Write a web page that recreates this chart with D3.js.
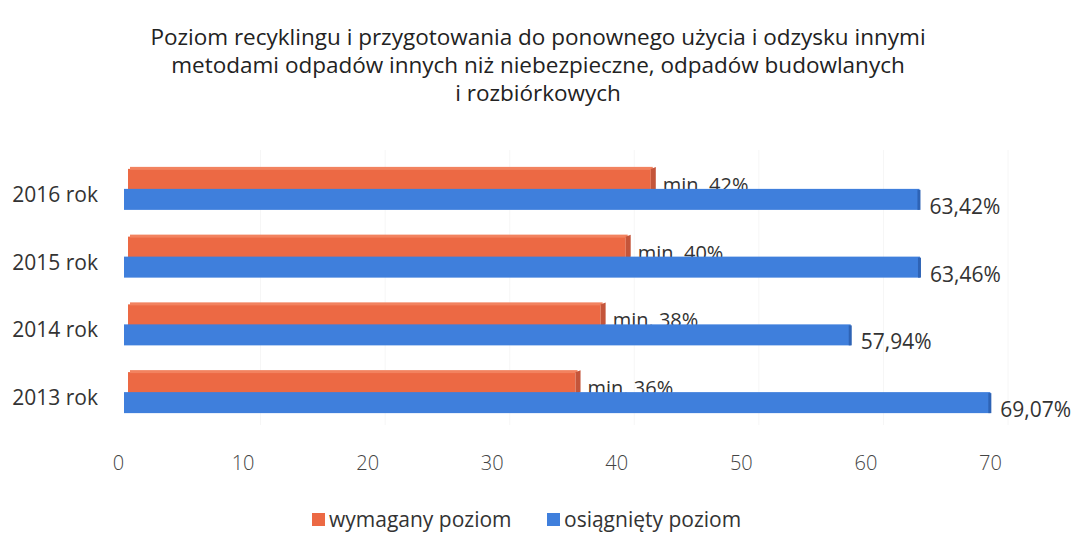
<!DOCTYPE html>
<html>
<head>
<meta charset="utf-8">
<script src="https://cdn.jsdelivr.net/npm/d3@7"></script>
<style>
  body { margin: 0; background: #fff; }
  svg { font-family: "Open Sans", Lato, sans-serif; }
</style>
</head>
<body>
<svg id="chart" width="1074" height="533"></svg>
<script>
// data
const years = ["2016 rok", "2015 rok", "2014 rok", "2013 rok"];
const required = [42, 40, 38, 36];
const achieved = [63.42, 63.46, 57.94, 69.07];
const ticks = [0, 10, 20, 30, 40, 50, 60, 70];
const seriesNames = ["wymagany poziom", "osiągnięty poziom"];
const titleLines = [
  "Poziom recyklingu i przygotowania do ponownego użycia i odzysku innymi",
  "metodami odpadów innych niż niebezpieczne, odpadów budowlanych",
  "i rozbiórkowych"
];

const orange = "#ec6944", orangeSide = "#c4553a", orangeTop = "#f2825f";
const blue = "#3f7fdc", blueCap = "#2e63b5";

const plFmt = d3.formatLocale({ decimal: ",", thousands: " ", grouping: [3], currency: ["", " zł"] });
const pct = plFmt.format(".2f");

const svg = d3.select("#chart");

// title
svg.append("g").selectAll("text")
  .data(titleLines)
  .enter().append("text")
  .attr("x", 538)
  .attr("y", (d, i) => 45 + i * 28)
  .attr("text-anchor", "middle")
  .style("font-size", "22.5px")
  .style("fill", "#222")
  .text(d => d);

// scales: bars (front face) and floor (axis labels)
const xBar = d3.scaleLinear().domain([0, 70]).range([124, 1002]);
const xAxis = d3.scaleLinear().domain([0, 70]).range([118, 990]);
const y = d3.scaleBand().domain(years).range([157, 428]);

// faint back-wall gridlines
svg.append("g").selectAll("line")
  .data(ticks.slice(1))
  .enter().append("line")
  .attr("x1", d => xAxis(d) + 18).attr("x2", d => xAxis(d) + 18)
  .attr("y1", 150).attr("y2", 425)
  .style("stroke", "#f6f6f6").style("stroke-width", 1);

const rows = years.map((yr, i) => ({ yr, req: required[i], ach: achieved[i], c: y(yr) + y.bandwidth() / 2 }));

// orange (required) bars - behind
const og = svg.append("g");
og.selectAll(".obar").data(rows).enter().append("rect")
  .attr("class", "obar")
  .attr("x", 128)
  .attr("y", d => d.c - 22)
  .attr("width", d => xBar(d.req) - 128)
  .attr("height", 22)
  .style("fill", orange);
og.selectAll(".otop").data(rows).enter().append("rect")
  .attr("x", 130)
  .attr("y", d => d.c - 24)
  .attr("width", d => xBar(d.req) - 128)
  .attr("height", 3)
  .style("fill", orangeTop);
og.selectAll(".oside").data(rows).enter().append("polygon")
  .attr("points", d => {
    const x = xBar(d.req);
    return [[x, d.c - 22], [x + 5, d.c - 24], [x + 5, d.c - 2], [x, d.c]].join(" ");
  })
  .style("fill", orangeSide);

// "min." labels (partly hidden behind blue bars)
svg.append("g").selectAll("text")
  .data(rows).enter().append("text")
  .attr("x", d => xBar(d.req) + 12)
  .attr("y", d => d.c + 1)
  .style("font-size", "20px")
  .style("fill", "#333")
  .text(d => "min. " + d.req + "%");

// blue (achieved) bars - in front
const bg = svg.append("g");
bg.selectAll(".bbar").data(rows).enter().append("rect")
  .attr("x", xBar(0))
  .attr("y", d => d.c - 2)
  .attr("width", d => xBar(d.ach) - xBar(0))
  .attr("height", 21)
  .style("fill", blue);
bg.selectAll(".bcap").data(rows).enter().append("rect")
  .attr("x", d => xBar(d.ach) - 2)
  .attr("y", d => d.c - 1)
  .attr("width", 3)
  .attr("height", 20)
  .style("fill", blueCap);

// value labels
svg.append("g").selectAll("text")
  .data(rows).enter().append("text")
  .attr("x", d => xBar(d.ach) + 10)
  .attr("y", d => d.c + 23)
  .style("font-size", "21px")
  .style("fill", "#333")
  .text(d => pct(d.ach) + "%");

// category labels
svg.append("g").selectAll("text")
  .data(rows).enter().append("text")
  .attr("x", 98)
  .attr("y", d => d.c + 11)
  .attr("text-anchor", "end")
  .style("font-size", "21px")
  .style("fill", "#333")
  .text(d => d.yr);

// x axis
const ax = svg.append("g")
  .attr("transform", "translate(0,456)")
  .call(d3.axisBottom(xAxis).tickValues(ticks).tickSize(0).tickPadding(0));
ax.select(".domain").remove();
ax.selectAll("text")
  .style("font-size", "20px")
  .style("font-family", "'Open Sans', Lato, sans-serif")
  .style("font-weight", "300")
  .style("fill", "#444");

// legend
const lg = svg.append("g");
const legendX = [312, 547];
const legendCol = [orange, blue];
seriesNames.forEach((n, i) => {
  lg.append("rect")
    .attr("x", legendX[i]).attr("y", 513)
    .attr("width", 13).attr("height", 13)
    .style("fill", legendCol[i]);
  lg.append("text")
    .attr("x", legendX[i] + 17).attr("y", 527)
    .style("font-size", "21px")
    .style("fill", "#333")
    .text(n);
});
</script>
</body>
</html>
